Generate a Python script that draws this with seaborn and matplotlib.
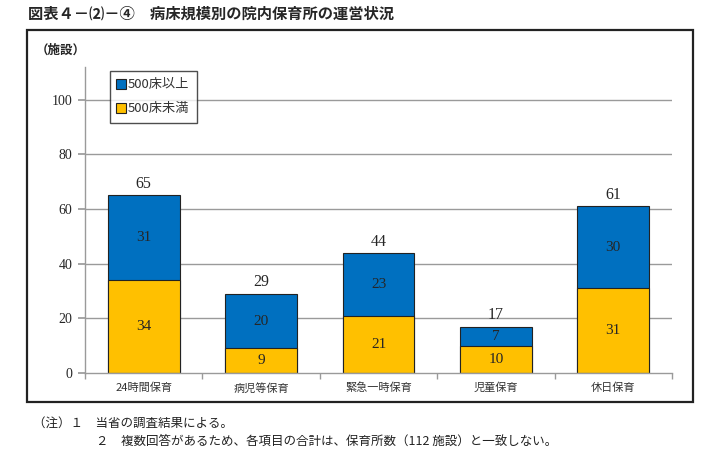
import matplotlib
matplotlib.use("Agg")
import matplotlib.pyplot as plt
import seaborn as sns
import pandas as pd
import numpy as np
from matplotlib.patches import Rectangle
from matplotlib.lines import Line2D

categories = ["24時間保育", "病児等保育", "緊急一時保育", "児童保育", "休日保育"]
large = [31, 20, 23, 7, 30]    # 500床以上
small = [34, 9, 21, 10, 31]    # 500床未満
totals = [65, 29, 44, 17, 61]
yticks = [0, 20, 40, 60, 80, 100]

BLUE = "#0070C0"
YELLOW = "#FFC000"
GRID = "#9a9a9a"

sns.set_theme(style="white")
plt.rcParams["font.family"] = ["Noto Sans CJK JP", "DejaVu Sans"]

fig = plt.figure(figsize=(7.26, 4.62), dpi=100)
ax = fig.add_axes([85/726, 1-373/462, (672-85)/726, (373-67)/462])

df = pd.DataFrame({"cat": categories, "large": large, "small": small, "total": totals})

sns.barplot(data=df, x="cat", y="total", color=BLUE, saturation=1, width=0.61,
            edgecolor="#222222", linewidth=0.8, ax=ax)
sns.barplot(data=df, x="cat", y="small", color=YELLOW, saturation=1, width=0.61,
            edgecolor="#222222", linewidth=0.8, ax=ax)

ax.set_ylim(0, 112)
ax.set_xlim(-0.5, 4.5)
ax.set_yticks(yticks)
ax.set_yticklabels([str(t) for t in yticks], family=["Liberation Serif", "DejaVu Serif"], fontsize=10)
ax.set_xlabel("")
ax.set_ylabel("")
for t in yticks[1:]:
    ax.axhline(t, color=GRID, lw=1.0, zorder=0)

ax.set_xticks(range(len(categories)))
ax.set_xticklabels(categories, fontsize=8, color="#333333")
ax.set_xticks(np.arange(-0.5, 5.0, 1.0), minor=True)
ax.tick_params(axis="x", which="major", length=0, pad=7)
ax.tick_params(axis="x", which="minor", length=4, color=GRID, direction="out", bottom=True)
ax.tick_params(axis="y", length=5, color=GRID, direction="out", left=True, pad=4)

for s in ["top", "right"]:
    ax.spines[s].set_visible(False)
for s in ["left", "bottom"]:
    ax.spines[s].set_color(GRID)
    ax.spines[s].set_linewidth(1.0)
ax.set_facecolor("none")

serif = ["Liberation Serif", "DejaVu Serif"]
for i in range(len(categories)):
    ax.text(i, small[i] / 2, str(small[i]), ha="center", va="center", fontsize=11, family=serif)
    ax.text(i, small[i] + large[i] / 2, str(large[i]), ha="center", va="center", fontsize=11, family=serif)
    ax.text(i, totals[i] + 1.2, str(totals[i]), ha="center", va="bottom", fontsize=11.5, family=serif)

handles = [
    Line2D([0], [0], marker="s", linestyle="none", markerfacecolor=BLUE, markeredgecolor="#222222",
           markersize=6.5, markeredgewidth=0.8, label="500床以上"),
    Line2D([0], [0], marker="s", linestyle="none", markerfacecolor=YELLOW, markeredgecolor="#222222",
           markersize=6.5, markeredgewidth=0.8, label="500床未満"),
]
leg = ax.legend(handles=handles, loc="upper left", bbox_to_anchor=((110-85)/587, (373-71)/306),
                borderaxespad=0, frameon=True, fancybox=False, edgecolor="#222222", fontsize=9.5,
                handlelength=0.6, handletextpad=0.2, borderpad=0.55, labelspacing=0.85)
leg.get_frame().set_linewidth(1.0)
for t in leg.get_texts():
    t.set_color("#333333")

# outer frame
fig.patches.append(Rectangle((27/726, 1-402/462), 666/726, 372/462, transform=fig.transFigure,
                             fill=False, edgecolor="#222222", lw=1.6))

fig.text(28/726, 1-14/462, "図表４－⑵－④　病床規模別の院内保育所の運営状況", fontsize=11,
         fontweight="bold", va="center", ha="left")
fig.text(36/726, 1-50/462, "（施設）", fontsize=9, fontweight="bold", va="center", ha="left")
fig.text(33/726, 1-423/462, "（注）１　当省の調査結果による。", fontsize=9, va="center", ha="left", color="#222222")
fig.text(96/726, 1-441/462, "２　複数回答があるため、各項目の合計は、保育所数（112 施設）と一致しない。",
         fontsize=9, va="center", ha="left", color="#222222")

fig.savefig("out.png", dpi=100)
